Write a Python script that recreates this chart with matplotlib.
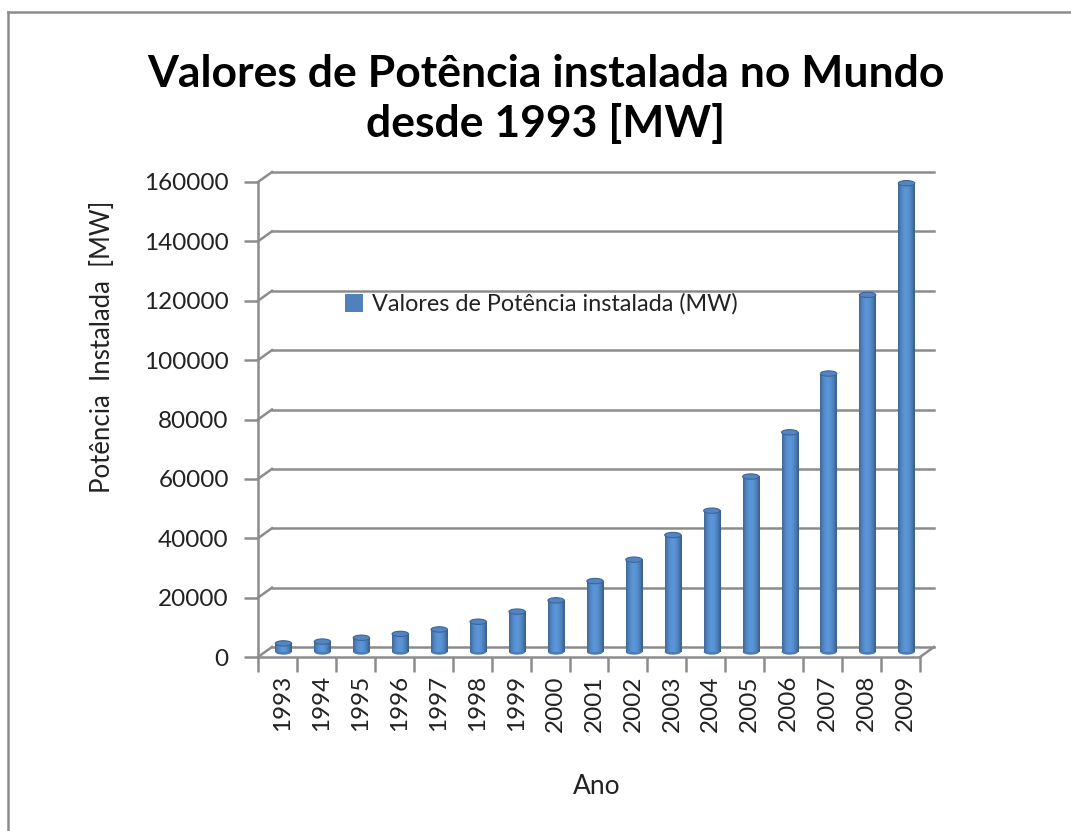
import numpy as np
import matplotlib.pyplot as plt
from matplotlib.transforms import ScaledTranslation, IdentityTransform
from matplotlib.patches import Ellipse, Patch
from matplotlib.lines import Line2D

plt.rcParams['font.family'] = ['Lato', 'DejaVu Sans']

anos = ['1993', '1994', '1995', '1996', '1997', '1998', '1999', '2000', '2001',
        '2002', '2003', '2004', '2005', '2006', '2007', '2008', '2009']
potencia = [2900, 3500, 4800, 6100, 7600, 10200, 13600, 17400, 23900,
            31100, 39400, 47600, 59100, 74000, 93800, 120300, 157900]
yticks = [0, 20000, 40000, 60000, 80000, 100000, 120000, 140000, 160000]

W, H = 1071, 831
fig = plt.figure(figsize=(W / 100, H / 100), dpi=100)
fig.patch.set_facecolor('white')

# borda do gráfico (só topo e esquerda visíveis)
fig.add_artist(Line2D([8 / W, 8 / W], [0, 1 - 12 / H], transform=fig.transFigure,
                      color='#8c8c8c', lw=1.8))
fig.add_artist(Line2D([8 / W, 1], [1 - 12 / H, 1 - 12 / H], transform=fig.transFigure,
                      color='#8c8c8c', lw=1.8))

ax = fig.add_axes([258 / W, 1 - 657 / H, 662 / W, 475 / H])
ax.set_xlim(-0.5, 16.5)
ax.set_ylim(0, 160000)
ax.set_facecolor('none')
for s in ax.spines.values():
    s.set_visible(False)

grid_c = '#8c8c8c'
back = ax.transData + ScaledTranslation(0.14, 0.10, fig.dpi_scale_trans)
mid = ax.transData + ScaledTranslation(0.06, 0.05, fig.dpi_scale_trans)

# grelha na parede de trás + diagonais à esquerda
for v in yticks:
    ax.plot([-0.5, 16.5], [v, v], color=grid_c, lw=1.8, transform=back, clip_on=False)
    p0 = ax.transData.transform((-0.5, v))
    ln = Line2D([p0[0], p0[0] + 14], [p0[1], p0[1] + 10], color=grid_c, lw=1.8)
    ln.set_transform(IdentityTransform())
    fig.add_artist(ln)
# chão
ax.plot([-0.5, 16.5], [0, 0], color=grid_c, lw=1.8, clip_on=False)
p1 = ax.transData.transform((16.5, 0))
rd = Line2D([p1[0], p1[0] + 14], [p1[1], p1[1] + 10], color=grid_c, lw=1.8)
rd.set_transform(IdentityTransform())
fig.add_artist(rd)
# eixo vertical frontal
ax.plot([-0.5, -0.5], [0, 160000], color=grid_c, lw=1.8, clip_on=False)

# cilindros
w = 0.42
grad = np.linspace(0, 1, 64)
shade = 0.55 + 0.45 * np.sin(np.pi * (grad * 0.85 + 0.1))
base = np.array([0.31, 0.51, 0.74])
img = np.clip(base[None, :] * shade[:, None] * 1.15, 0, 1)[None, :, :]
for i, v in enumerate(potencia):
    ax.imshow(img, extent=[i - w / 2, i + w / 2, 0, v], aspect='auto',
              transform=mid, interpolation='bilinear', zorder=3, clip_on=False)
    ax.add_patch(Ellipse((i, v), w, 1800, facecolor='#5585c0', edgecolor='#3a669c',
                         lw=0.8, transform=mid, zorder=4, clip_on=False))
    ax.add_patch(Ellipse((i, 0), w, 1800, facecolor='#4a7bb7', edgecolor='none',
                         transform=mid, zorder=2, clip_on=False))
ax.set_xlim(-0.5, 16.5)
ax.set_ylim(0, 160000)

# eixos
fs = 17.5
ax.set_yticks(yticks)
ax.set_yticklabels([str(v) for v in yticks])
ax.tick_params(axis='y', length=10, width=1.8, color=grid_c, pad=11, labelsize=fs,
               labelcolor='#222222')
ax.set_xticks(range(len(anos)))
ax.set_xticklabels(anos, rotation=90)
ax.set_xticks(np.arange(-0.5, 17, 1), minor=True)
ax.tick_params(axis='x', which='major', length=0, pad=13, labelsize=fs,
               labelcolor='#222222')
ax.tick_params(axis='x', which='minor', length=11, width=1.8, color=grid_c)
for lab in ax.get_xticklabels():
    lab.set_transform(lab.get_transform() + ScaledTranslation(0.05, 0, fig.dpi_scale_trans))

fig.text(546 / W, 1 - 99 / H, 'Valores de Potência instalada no Mundo\ndesde 1993 [MW]',
         ha='center', va='center', fontsize=32, fontweight='bold', linespacing=1.25)
fig.text(103 / W, 1 - 347 / H, 'Potência  Instalada  [MW]', rotation=90,
         ha='center', va='center', fontsize=18.5, color='#222222')
fig.text(597 / W, 1 - 787 / H, 'Ano', ha='center', va='center', fontsize=19,
         color='#222222')

ax.legend(handles=[Patch(facecolor='#4f81bd', edgecolor='none')],
          labels=['Valores de Potência instalada (MW)'], frameon=False,
          loc='center left', bbox_to_anchor=(324 / W, 1 - 304 / H),
          bbox_transform=fig.transFigure, handlelength=0.75, handleheight=0.8,
          handletextpad=0.4, fontsize=16.8, labelcolor='#222222')

fig.savefig('out.png', dpi=100)
